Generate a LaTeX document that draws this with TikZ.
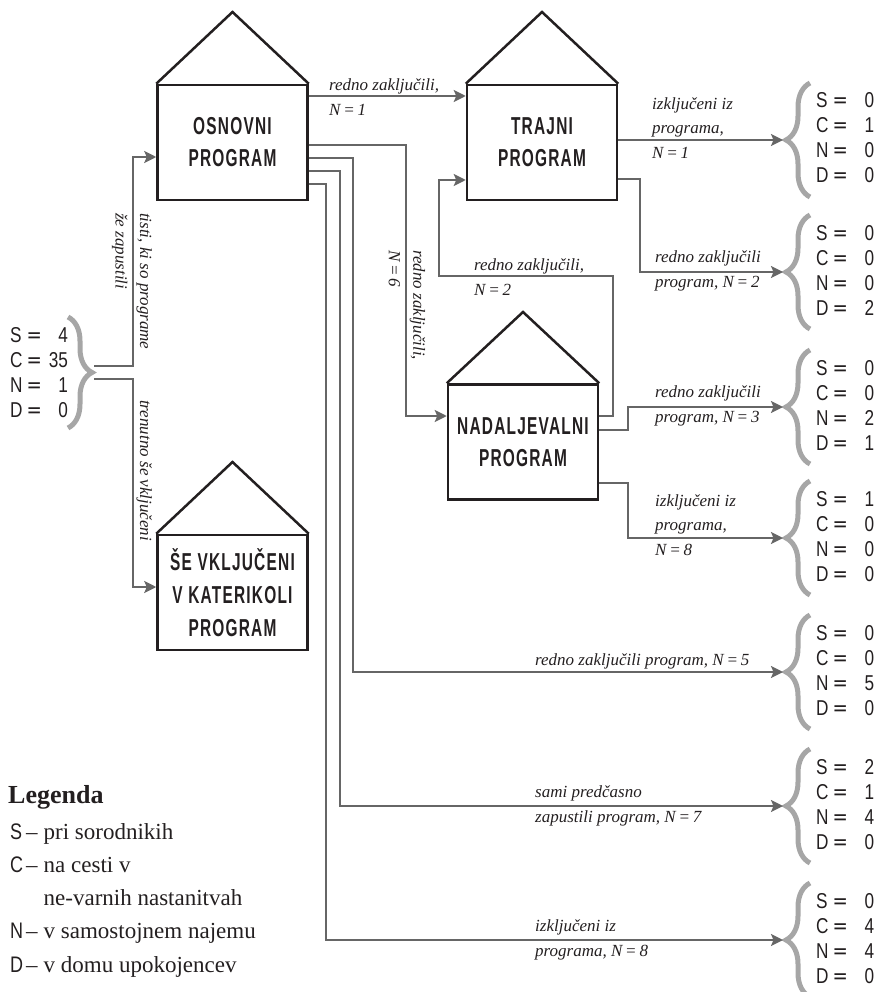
\documentclass[tikz,border=0pt]{standalone}
\usepackage{fontspec}
\setmainfont{Liberation Serif}
\newfontfamily\cond[FakeStretch=0.8]{Liberation Sans}
\newfontfamily\condb[FakeStretch=0.63,LetterSpace=5]{Liberation Sans Bold}
\newfontfamily\eqf[FakeStretch=0.85]{DejaVu Sans}
\usetikzlibrary{arrows.meta,decorations.pathreplacing}
\definecolor{ink}{HTML}{231F20}
\definecolor{flowgray}{HTML}{666666}
\definecolor{bracegray}{HTML}{A6A6A6}
\newcommand\zz{\hphantom{0}}
\newcommand\valtab[4]{\cond\fontsize{21.5}{25}\selectfont
  \begin{tabular}{@{}l@{\hspace{4pt}{\eqf=}\hspace{7pt}}r@{}}S&#1\\C&#2\\N&#3\\D&#4\end{tabular}}
\newcommand\legl[1]{{\cond\fontsize{22.5}{33.3}\selectfont #1}}
\tikzset{
  house/.style={draw=ink, line width=2.5pt, minimum width=150pt, minimum height=115pt,
    inner sep=0pt, align=center, font=\condb\fontsize{24.5}{32}\selectfont, text=ink},
  roof/.style={draw=ink, line width=2.5pt, line join=miter},
  flow/.style={draw=flowgray, line width=2.2pt, -{Stealth[length=12pt,width=12pt,inset=2.5pt]}},
  lbl/.style={font=\itshape\fontsize{17}{24.5}\selectfont, align=left, inner sep=0pt, text=ink},
  valnode/.style={anchor=west, inner sep=0pt, text=ink},
  gbrace/.style={draw=bracegray, line width=5pt, decorate, decoration={brace, amplitude=24pt}},
}
\begin{document}
\begin{tikzpicture}[x=1pt,y=-1pt]
\useasboundingbox (0,0) rectangle (877,992);

% houses
\node[house] (osn) at (232.5,142.5) {OSNOVNI\\PROGRAM};
\draw[roof] (osn.north west) -- (232.5,12) -- (osn.north east);
\node[house] (traj) at (542,142.5) {TRAJNI\\PROGRAM};
\draw[roof] (traj.north west) -- (542,12) -- (traj.north east);
\node[house] (nad) at (523,442) {NADALJEVALNI\\PROGRAM};
\draw[roof] (nad.north west) -- (523,312) -- (nad.north east);
\node[house, font=\condb\fontsize{24.5}{33}\selectfont] (sev) at (232.5,592.5) {ŠE VKLJUČENI\\V KATERIKOLI\\PROGRAM};
\draw[roof] (sev.north west) -- (232.5,462) -- (sev.north east);

% left group
\node[valnode] (v0) at (10,374.5) {\valtab{\zz4}{35}{\zz1}{\zz0}};
\draw[gbrace] (68,317) -- (68,428);
\coordinate (lA) at (94,366);
\coordinate (lB) at (94,379);

% right groups
\foreach \n/\y in {1/140,2/272,3/407,4/538,5/672,6/806,7/940}{
  \draw[gbrace] (810,\y+57) -- (810,\y-57);
  \coordinate (b\n) at (783,\y);
}
\node[valnode] (v1) at (816,140.5) {\valtab{\zz0}{\zz1}{\zz0}{\zz0}};
\node[valnode] (v2) at (816,272.5) {\valtab{\zz0}{\zz0}{\zz0}{\zz2}};
\node[valnode] (v3) at (816,407.5) {\valtab{\zz0}{\zz0}{\zz2}{\zz1}};
\node[valnode] (v4) at (816,538.5) {\valtab{\zz1}{\zz0}{\zz0}{\zz0}};
\node[valnode] (v5) at (816,672.5) {\valtab{\zz0}{\zz0}{\zz5}{\zz0}};
\node[valnode] (v6) at (816,806.5) {\valtab{\zz2}{\zz1}{\zz4}{\zz0}};
\node[valnode] (v7) at (816,940.5) {\valtab{\zz0}{\zz4}{\zz4}{\zz0}};

% connectors
\draw[flow] (lA) -- (133,366) |- ([yshift=-14.5pt]osn.west);
\draw[flow] (lB) -- (133,379) |- ([yshift=5.5pt]sev.west);

\draw[flow] ([yshift=46.5pt]osn.east) -- ([yshift=46.5pt]traj.west);
\draw[flow] ([yshift=-2.5pt]osn.east) -- (406,145) |- ([yshift=26pt]nad.west);
\draw[flow] ([yshift=-15.5pt]osn.east) -- (353,158) |- (b5);
\draw[flow] ([yshift=-28.5pt]osn.east) -- (340,171) |- (b6);
\draw[flow] ([yshift=-41.5pt]osn.east) -- (326,184) |- (b7);

\draw[flow] ([yshift=2.5pt]traj.east) -- (b1);
\draw[flow] ([yshift=-36.5pt]traj.east) -- (640,179) |- (b2);

\draw[flow] ([yshift=26pt]nad.east) -| (613,276) -- (439,276) |- ([yshift=-37.5pt]traj.west);
\draw[flow] ([yshift=12pt]nad.east) -- (628,430) |- (b3);
\draw[flow] ([yshift=-41pt]nad.east) -- (628,483) |- (b4);

% labels
\node[lbl,anchor=west,rotate=-90] (t11) at (132,213) {tisti, ki so programe\\že zapustili};
\node[lbl,anchor=base west,rotate=-90] (t12) at (140,400) {trenutno še vključeni};
\node[lbl,anchor=west] (t1) at (329,97) {redno zaključili,\\N\,=\,1};
\node[lbl,anchor=west,rotate=-90] (t2) at (407,250) {redno zaključili,\\N\,=\,6};
\node[lbl,anchor=west] (t6) at (652,128) {izključeni iz\\programa,\\N\,=\,1};
\node[lbl,anchor=west] (t7) at (655,271) {redno zaključili\\program, N\,=\,2};
\node[lbl,anchor=west] (t8) at (474,277) {redno zaključili,\\N\,=\,2};
\node[lbl,anchor=west] (t9) at (655,406) {redno zaključili\\program, N\,=\,3};
\node[lbl,anchor=west] (t10) at (655,525) {izključeni iz\\programa,\\N\,=\,8};
\node[lbl,anchor=base west] (t3) at (535,665) {redno zaključili program, N\,=\,5};
\node[lbl,anchor=west] (t4) at (535,806) {sami predčasno\\zapustili program, N\,=\,7};
\node[lbl,anchor=west] (t5) at (535,940) {izključeni iz\\programa, N\,=\,8};

% legend
\node[anchor=base west, inner sep=0pt, font=\bfseries\fontsize{26}{30}\selectfont, text=ink] (leg) at (8,803) {Legenda};
\node[anchor=base west, inner sep=0pt, text=ink] (legt) at (10,839) {\fontsize{23}{33.3}\selectfont
  \begin{tabular}[t]{@{}l@{\hspace{3pt}}l@{\hspace{6pt}}l@{}}
  \legl{S}&–&pri sorodnikih\\
  \legl{C}&–&na cesti v\\
  &&ne-varnih nastanitvah\\
  \legl{N}&–&v samostojnem najemu\\
  \legl{D}&–&v domu upokojencev
  \end{tabular}};
\end{tikzpicture}
\end{document}
